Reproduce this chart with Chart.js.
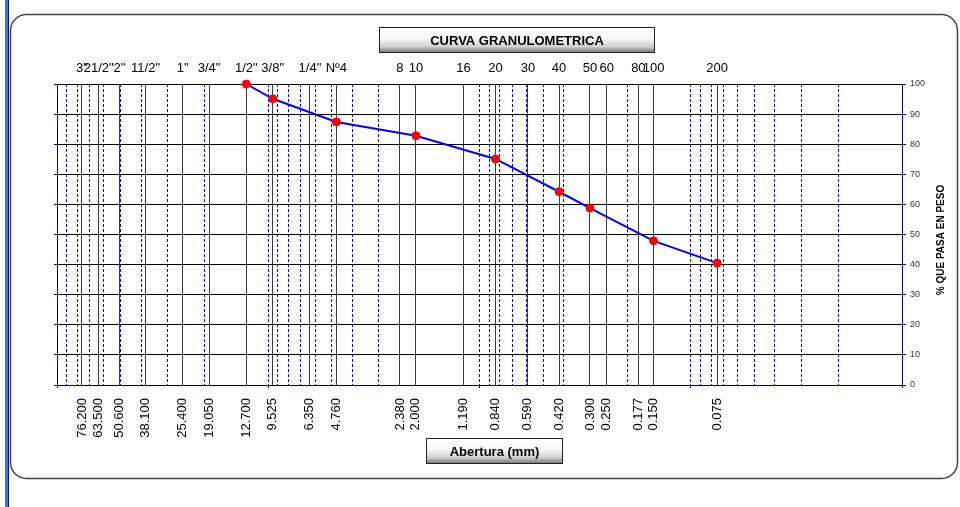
<!DOCTYPE html>
<html lang="es">
<head>
<meta charset="UTF-8">
<title>Curva granulometrica</title>
<script src="https://cdn.jsdelivr.net/npm/chart.js"></script>
<style>
  html, body { margin: 0; padding: 0; background: #fff; }
</style>
</head>
<body>
<canvas id="curvaChart" width="960" height="507"></canvas>
<script>
// Tamices: abertura en mm y designacion
var aberturas = [76.2, 63.5, 50.6, 38.1, 25.4, 19.05, 12.7, 9.525, 6.35, 4.76, 2.38, 2.0, 1.19, 0.84, 0.59, 0.42, 0.3, 0.25, 0.177, 0.15, 0.075];
var tamices = ['3"', '21/2"', '2"', '11/2"', '1"', '3/4"', '1/2"', '3/8"', '1/4"', 'Nº4', '8', '10', '16', '20', '30', '40', '50', '60', '80', '100', '200'];

// Ensayo: abertura (mm) y % que pasa
var aberturaEnsayo = [12.7, 9.525, 4.76, 2.0, 0.84, 0.42, 0.3, 0.15, 0.075];
var pasaEnsayo = [100, 95.1, 87.4, 82.8, 75.1, 64.2, 58.8, 47.9, 40.5];

// lineas del papel logaritmico (1..9 x 10^n)
var lineasLog = [];
for (var e = -2; e <= 1; e++) {
  for (var k = 1; k <= 9; k++) lineasLog.push(k * Math.pow(10, e));
}
lineasLog.push(100);

function esDecada(v) {
  var l = Math.log10(v);
  return Math.abs(l - Math.round(l)) < 1e-9;
}

Chart.defaults.font.family = '"Liberation Sans", Arial, sans-serif';

function caja(ctx, x, y, w, h, texto) {
  var g = ctx.createLinearGradient(0, y, 0, y + h);
  g.addColorStop(0, '#ffffff');
  g.addColorStop(0.45, '#f7f7f7');
  g.addColorStop(0.75, '#d0d0d0');
  g.addColorStop(1, '#6e6e6e');
  ctx.fillStyle = g;
  ctx.fillRect(x, y, w, h);
  ctx.strokeStyle = '#222';
  ctx.lineWidth = 1;
  ctx.strokeRect(x + 0.5, y + 0.5, w - 1, h - 1);
  ctx.fillStyle = '#000';
  ctx.font = 'bold 13px "Liberation Sans", Arial';
  ctx.textAlign = 'center';
  ctx.textBaseline = 'middle';
  ctx.fillText(texto, x + w / 2, y + h / 2 + 1);
}

var marco = {
  id: 'marco',
  beforeDraw: function (chart) {
    var ctx = chart.ctx;
    ctx.save();
    ctx.fillStyle = '#fff';
    ctx.fillRect(0, 0, chart.width, chart.height);
    // barra lateral
    ctx.fillStyle = '#2b7fd3';
    ctx.fillRect(5, 0, 3, chart.height);
    ctx.fillStyle = '#0000a0';
    ctx.fillRect(8, 0, 1, chart.height);
    // borde redondeado
    ctx.strokeStyle = '#444';
    ctx.lineWidth = 1.5;
    ctx.beginPath();
    ctx.roundRect(10.5, 14.5, 947, 464, 16);
    ctx.stroke();
    ctx.restore();
  },
  afterDraw: function (chart) {
    var ctx = chart.ctx;
    ctx.save();
    caja(ctx, 379, 27, 276, 26, 'CURVA GRANULOMETRICA');
    caja(ctx, 426, 438, 137, 26, 'Abertura (mm)');
    ctx.translate(941, 240);
    ctx.rotate(-Math.PI / 2);
    ctx.fillStyle = '#000';
    ctx.font = 'bold 10px "Liberation Sans", Arial';
    ctx.textAlign = 'center';
    ctx.textBaseline = 'middle';
    ctx.fillText('% QUE PASA EN PESO', 0, 0);
    ctx.restore();
  }
};

var ctx = document.getElementById('curvaChart').getContext('2d');
var curvaChart = new Chart(ctx, {
  type: 'line',
  data: {
    datasets: [{
      label: 'Curva granulometrica',
      data: aberturaEnsayo.map(function (a, i) { return { x: a, y: pasaEnsayo[i] }; }),
      xAxisID: 'x',
      yAxisID: 'y',
      borderColor: '#0000ff',
      borderWidth: 2,
      tension: 0,
      pointRadius: 4,
      pointBackgroundColor: '#ff0000',
      pointBorderColor: '#ff0000',
      pointBorderWidth: 1,
      clip: false
    }]
  },
  options: {
    responsive: false,
    animation: false,
    devicePixelRatio: 1,
    layout: { padding: { left: 54, right: 28, top: 54, bottom: 62 } },
    plugins: { legend: { display: false }, tooltip: { enabled: false } },
    scales: {
      xg: {
        type: 'logarithmic', position: 'bottom', reverse: true, min: 0.01, max: 100, weight: 0,
        afterBuildTicks: function (s) { s.ticks = lineasLog.map(function (v) { return { value: v }; }); },
        afterFit: function (s) { s.height = 3; },
        grid: {
          color: '#0000ff', lineWidth: 1, drawTicks: true, tickLength: 3,
          tickColor: function (c) { return c.tick && esDecada(c.tick.value) ? '#000' : 'rgba(0,0,0,0)'; }
        },
        border: { display: false, dash: [3, 2] },
        ticks: { display: false }
      },
      x: {
        type: 'logarithmic', position: 'bottom', reverse: true, min: 0.01, max: 100, weight: 1,
        afterBuildTicks: function (s) { s.ticks = aberturas.map(function (v) { return { value: v }; }); },
        afterFit: function (s) { s.height = 57; },
        grid: { color: '#3a3a3a', lineWidth: 1, drawTicks: false },
        border: { display: false, dash: [] },
        ticks: {
          autoSkip: false, minRotation: 90, maxRotation: 90, padding: 10, color: '#000',
          font: { size: 13 },
          callback: function (v) { return Number(v).toFixed(3); }
        }
      },
      xTop: {
        type: 'logarithmic', position: 'top', reverse: true, min: 0.01, max: 100,
        afterBuildTicks: function (s) { s.ticks = aberturas.map(function (v) { return { value: v }; }); },
        afterFit: function (s) { s.height = 30; },
        grid: { display: false, drawTicks: false, drawOnChartArea: false },
        border: { display: false },
        ticks: {
          autoSkip: false, minRotation: 0, maxRotation: 0, padding: 8, color: '#000',
          font: { size: 13 },
          callback: function (v) { return tamices[aberturas.indexOf(v)]; }
        }
      },
      y: {
        position: 'right', min: 0, max: 100,
        afterFit: function (s) { s.width = 30; },
        grid: { color: '#000', lineWidth: 1, tickLength: 4, tickColor: '#000080' },
        border: { color: '#000080', width: 1 },
        ticks: { stepSize: 10, padding: 4, color: '#333', font: { size: 9 } }
      },
      yL: {
        position: 'left', min: 0, max: 100,
        afterFit: function (s) { s.width = 3; },
        grid: { drawOnChartArea: false, tickLength: 3, tickColor: '#000080' },
        border: { color: '#000080', width: 1 },
        ticks: { display: false, stepSize: 10 }
      }
    }
  },
  plugins: [marco]
});
</script>
</body>
</html>
